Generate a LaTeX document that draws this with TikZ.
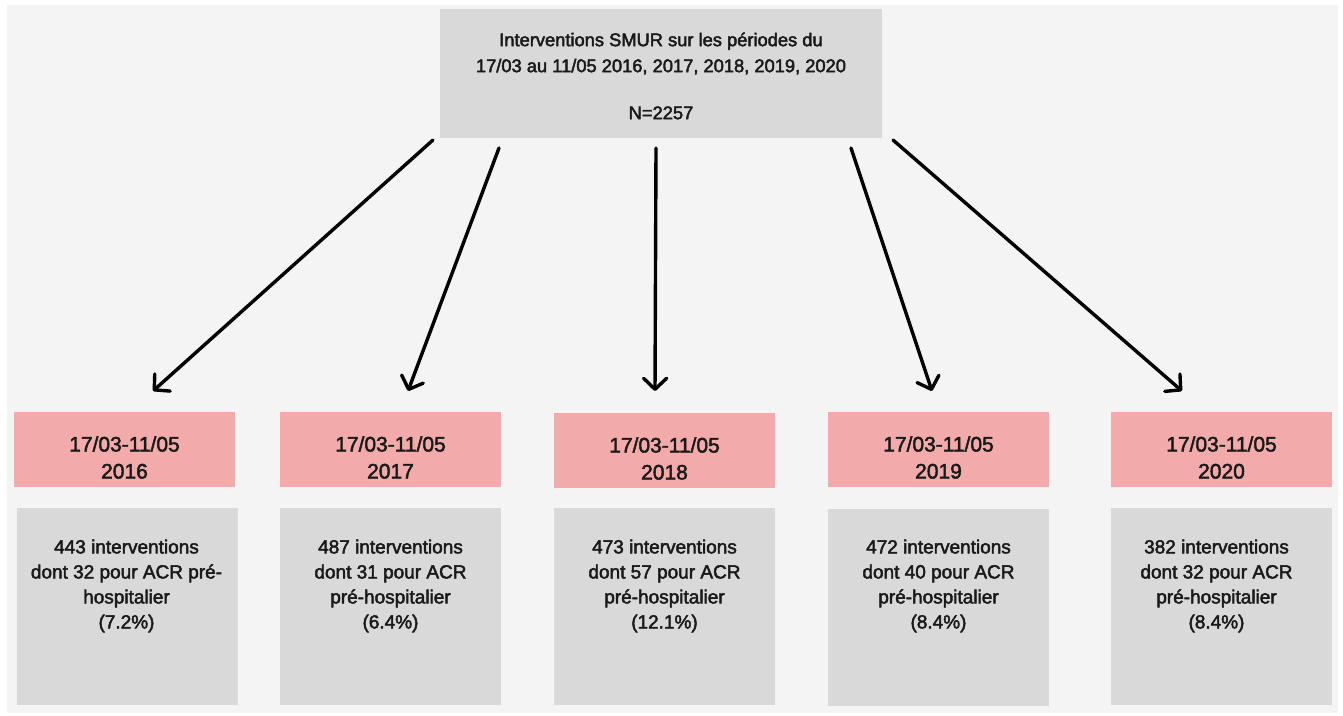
\documentclass[tikz,border=0pt]{standalone}
\usepackage{fontspec}
\setmainfont{Liberation Sans}
\usetikzlibrary{arrows.meta}
\definecolor{bgc}{HTML}{F4F4F4}
\definecolor{boxgray}{HTML}{D9D9D9}
\definecolor{boxpink}{HTML}{F2AAAA}
\definecolor{txt}{HTML}{1A1A1A}
\newcommand\medwt{\special{pdf:literal direct 2 Tr 0.45 w}}
\begin{document}
\begin{tikzpicture}[x=1pt,y=-1pt,
  topbox/.style={fill=boxgray, minimum width=442pt, minimum height=129pt, inner sep=0pt},
  pinkbox/.style={fill=boxpink, minimum width=221pt, minimum height=75pt, inner sep=0pt},
  graybox/.style={fill=boxgray, minimum width=221pt, minimum height=197pt, inner sep=0pt},
  toptext/.style={align=center, text=txt, inner sep=0pt, font=\fontsize{18.3}{26}\selectfont\medwt},
  pinktext/.style={align=center, text=txt, inner sep=0pt, font=\fontsize{21}{27}\selectfont\medwt},
  graytext/.style={align=center, text=txt, inner sep=0pt, font=\fontsize{19}{25}\selectfont\medwt},
  conn/.style={line width=3.4pt, line cap=round, -{Straight Barb[length=11pt,width=23pt,line cap=round,line join=round]}}]
\useasboundingbox (0,0) rectangle (1343,715);
\fill[white] (0,0) rectangle (1343,715);
\fill[bgc] (7,5) rectangle (1338,713);

% top box
\node[topbox] (top) at (661,73.5) {};
\node[toptext] (toplbl) at (661,76) {Interventions SMUR sur les périodes du\\17/03 au 11/05 2016, 2017, 2018, 2019, 2020\\[21pt]N=2257};

% pink boxes
\node[pinkbox] (p1) at (124.5,449.5) {};
\node[pinkbox] (p2) at (390.5,449.5) {};
\node[pinkbox] (p3) at (664.5,450.5) {};
\node[pinkbox] (p4) at (938.5,449.5) {};
\node[pinkbox] (p5) at (1221.5,449.5) {};
\node[pinktext] (pt1) at ([yshift=-8pt]p1.center) {17/03-11/05\\2016};
\node[pinktext] (pt2) at ([yshift=-8pt]p2.center) {17/03-11/05\\2017};
\node[pinktext] (pt3) at ([yshift=-8pt]p3.center) {17/03-11/05\\2018};
\node[pinktext] (pt4) at ([yshift=-8pt]p4.center) {17/03-11/05\\2019};
\node[pinktext] (pt5) at ([yshift=-8pt]p5.center) {17/03-11/05\\2020};

% gray boxes
\node[graybox] (g1) at (127,606.5) {};
\node[graybox] (g2) at (390.5,606.5) {};
\node[graybox] (g3) at (664.5,606.5) {};
\node[graybox] (g4) at (938.5,607) {};
\node[graybox] (g5) at (1221.5,606.5) {};
\node[graytext] (gt1) at (126.5,586) {443 interventions\\dont 32 pour ACR pré-\\hospitalier\\(7.2\%)};
\node[graytext] (gt2) at (390.5,586) {487 interventions\\dont 31 pour ACR\\pré-hospitalier\\(6.4\%)};
\node[graytext] (gt3) at (664.5,586) {473 interventions\\dont 57 pour ACR\\pré-hospitalier\\(12.1\%)};
\node[graytext] (gt4) at (938.5,586) {472 interventions\\dont 40 pour ACR\\pré-hospitalier\\(8.4\%)};
\node[graytext] (gt5) at (1216.5,586) {382 interventions\\dont 32 pour ACR\\pré-hospitalier\\(8.4\%)};

% connectors
\coordinate (s1) at (433,140);
\coordinate (s2) at (499,148);
\coordinate (s3) at (656,148);
\coordinate (s4) at (851,148);
\coordinate (s5) at (893,140);
\coordinate (e1) at (153,391);
\coordinate (e2) at (408,391);
\coordinate (e3) at (655,391);
\coordinate (e4) at (932,391);
\coordinate (e5) at (1182,391);
\draw[conn] (s1) -- (e1);
\draw[conn] (s2) -- (e2);
\draw[conn] (s3) -- (e3);
\draw[conn] (s4) -- (e4);
\draw[conn] (s5) -- (e5);
\end{tikzpicture}
\end{document}
